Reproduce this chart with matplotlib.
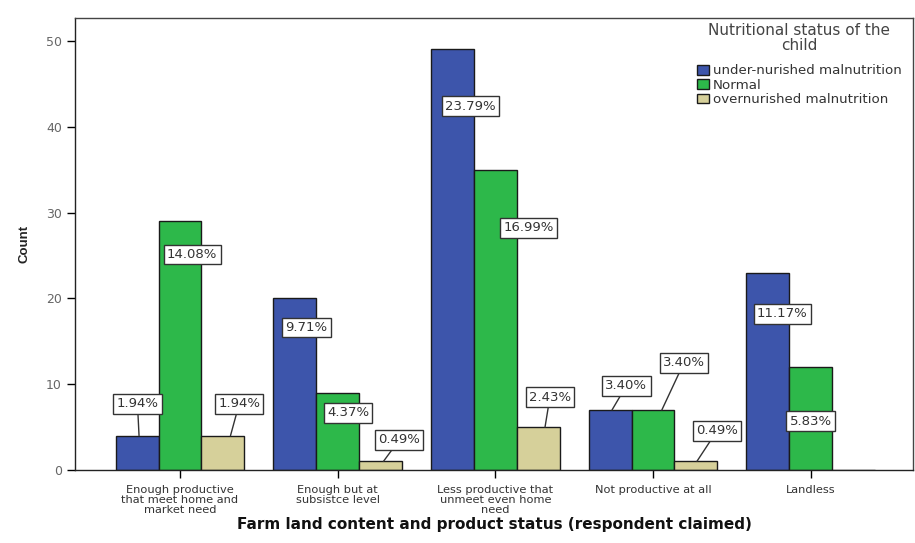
import matplotlib
matplotlib.use("Agg")
import matplotlib.pyplot as plt
import numpy as np

plt.rcParams['font.family'] = ['DejaVu Sans']

categories = ["Enough productive\nthat meet home and\nmarket need",
              "Enough but at\nsubsistce level",
              "Less productive that\nunmeet even home\nneed",
              "Not productive at all",
              "Landless"]
series_names = ["under-nurished malnutrition", "Normal", "overnurished malnutrition"]
under = [4, 20, 49, 7, 23]
normal = [29, 9, 35, 7, 12]
over = [4, 1, 5, 1, 0]
under_pct = ["1.94%", "9.71%", "23.79%", "3.40%", "11.17%"]
normal_pct = ["14.08%", "4.37%", "16.99%", "3.40%", "5.83%"]
over_pct = ["1.94%", "0.49%", "2.43%", "0.49%", None]
yticks = [0, 10, 20, 30, 40, 50]

colors = ["#3d55ab", "#2db84a", "#d6d09a"]

# label placement (layout): (x offset from group center, y) and optional leader target (x offset, y)
lab_layout = {
    (0, 0): ((-0.27, 7.7), (-0.26, 4)),
    (0, 1): ((0.076, 25.1), None),
    (0, 2): ((0.375, 7.7), (0.32, 4)),
    (1, 0): ((-0.20, 16.6), None),
    (1, 1): ((0.065, 6.65), None),
    (1, 2): ((0.39, 3.5), (0.29, 1)),
    (2, 0): ((-0.16, 42.4), None),
    (2, 1): ((0.213, 28.2), None),
    (2, 2): ((0.346, 8.5), (0.315, 5)),
    (3, 0): ((-0.17, 9.8), (-0.26, 7)),
    (3, 1): ((0.196, 12.5), (0.056, 7)),
    (3, 2): ((0.405, 4.55), (0.278, 1)),
    (4, 0): ((-0.18, 18.2), None),
    (4, 1): ((0.001, 5.7), None),
}

fig = plt.figure(figsize=(9.15, 5.43), dpi=100)
ax = fig.add_axes([0.082, 0.1344, 0.916, 0.833])

x = np.arange(len(categories))
w = 0.272
data = [under, normal, over]
pcts = [under_pct, normal_pct, over_pct]
for i, (vals, col, name) in enumerate(zip(data, colors, series_names)):
    ax.bar(x + (i - 1) * w, vals, width=w, color=col, edgecolor="#1a1a1a",
           linewidth=1.0, label=name, zorder=2)

for (g, s), (pos, tgt) in lab_layout.items():
    txt = pcts[s][g]
    if txt is None:
        continue
    bbox = dict(boxstyle="square,pad=0.25", fc="white", ec="#333333", lw=1.0)
    if tgt is None:
        ax.text(x[g] + pos[0], pos[1], txt, ha="center", va="center",
                fontsize=9.5, color="#333333", bbox=bbox, zorder=4)
    else:
        ax.annotate(txt, xy=(x[g] + tgt[0], tgt[1]), xytext=(x[g] + pos[0], pos[1]),
                    ha="center", va="center", fontsize=9.5, color="#333333",
                    bbox=bbox, zorder=4,
                    arrowprops=dict(arrowstyle="-", color="#333333", lw=1.0,
                                    shrinkA=0, shrinkB=0))

ax.set_xlim(-0.666, 4.65)
ax.set_ylim(0, 52.7)
ax.set_yticks(yticks)
ax.set_xticks(x)
ax.set_xticklabels(categories, fontsize=8.2, color="#333333", linespacing=1.0)
ax.tick_params(axis="y", labelsize=9, labelcolor="#666666", length=6, width=1)
ax.tick_params(axis="x", length=6, width=1, pad=5)
for sp in ax.spines.values():
    sp.set_linewidth(1.0)
    sp.set_color("#444444")
ax.spines["left"].set_color("#222222")
ax.spines["bottom"].set_color("#222222")

ax.set_ylabel("Count", fontsize=9.5, fontweight="bold", color="#222222", labelpad=11,
              family="Liberation Sans")
ax.set_xlabel("Farm land content and product status (respondent claimed)",
              fontsize=11, fontweight="bold", color="#111111", labelpad=1)

leg = ax.legend(title="Nutritional status of the\nchild", loc="upper left",
                bbox_to_anchor=(696 / 915, 1 - 22 / 543), bbox_transform=fig.transFigure,
                fontsize=9.6, title_fontsize=11,
                frameon=True, fancybox=False, edgecolor="white", facecolor="white",
                framealpha=1, handlelength=0.9, handleheight=0.75, handletextpad=0.25,
                labelspacing=0.1, borderpad=0.1, borderaxespad=0)
leg.get_title().set_color("#444444")
leg.get_title().set_multialignment("center")
leg.get_title().set_linespacing(1.0)
leg._legend_box.sep = 8
for t in leg.get_texts():
    t.set_color("#333333")

fig.savefig("out.png", dpi=100)
